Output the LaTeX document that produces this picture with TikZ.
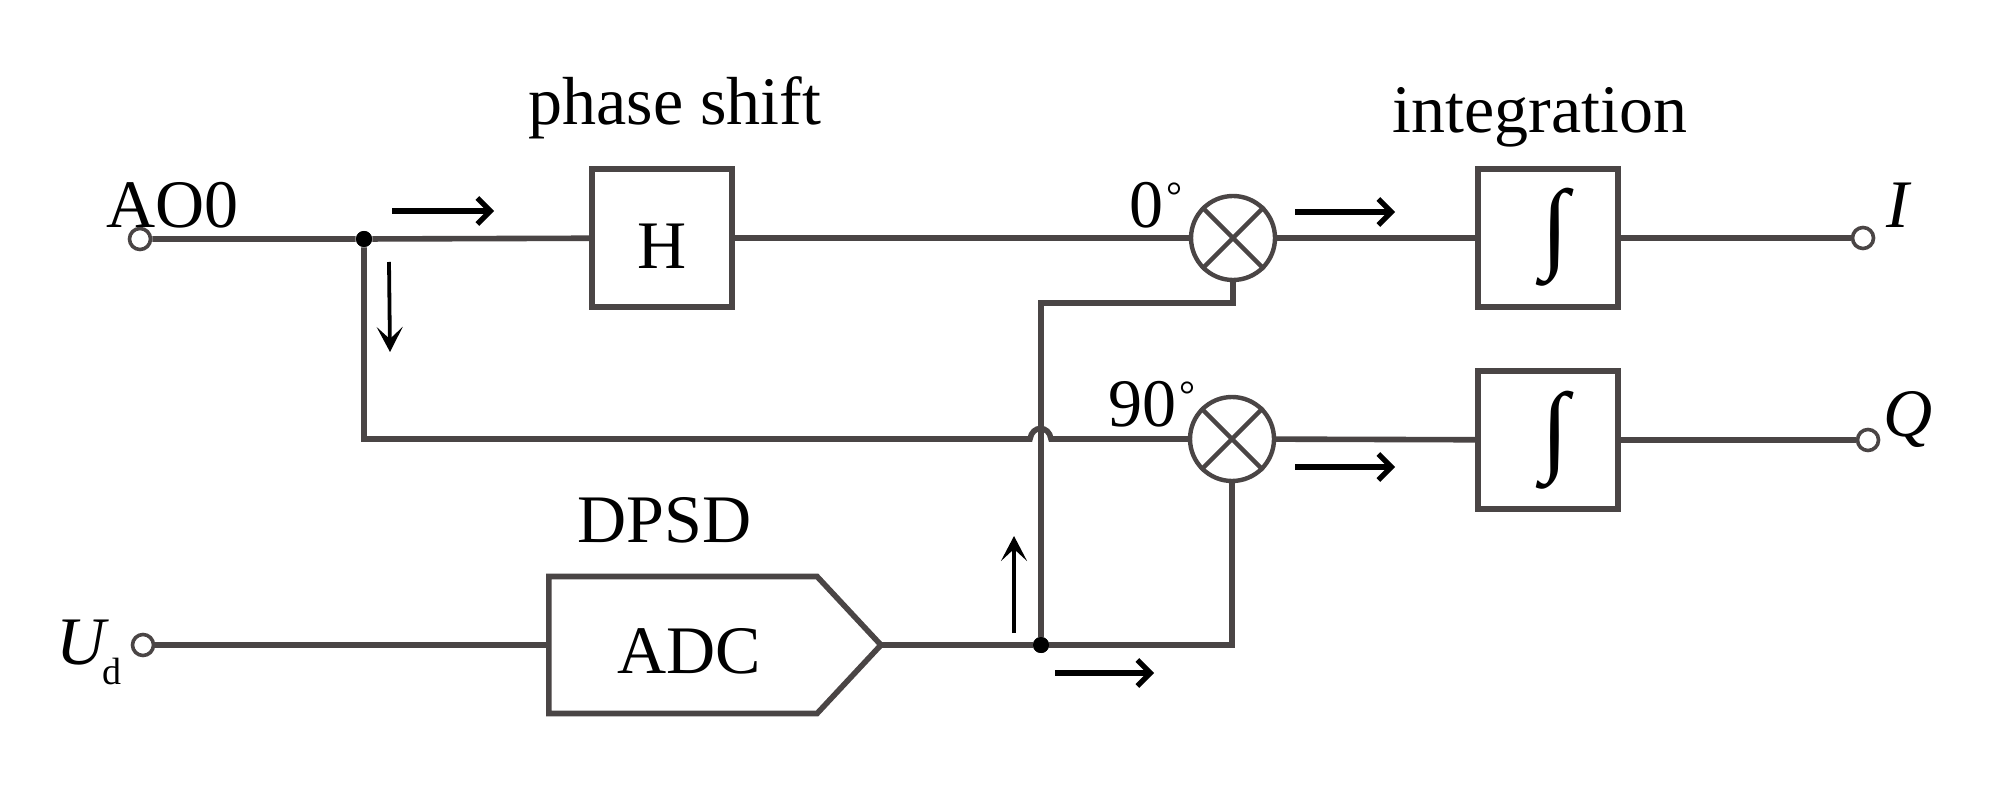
\documentclass[tikz,border=0pt]{standalone}
\usepackage{fontspec}
\setmainfont{Liberation Serif}
\usetikzlibrary{arrows.meta,shapes.symbols}
\definecolor{wirecol}{HTML}{4A4545}
\newcommand{\degmark}{\kern1.5pt\raisebox{9pt}{\fontsize{20pt}{22pt}\selectfont °}}
\tikzset{
  wire/.style={draw=wirecol,line width=2.8pt,line join=miter},
  blockbox/.style={wire,rectangle,inner sep=0pt,minimum width=70pt,minimum height=69pt},
  mixer/.style={wire,circle,inner sep=0pt,minimum size=42pt,line width=2.2pt},
  terminal/.style={draw=wirecol,fill=white,circle,inner sep=0pt,minimum size=10.5pt,line width=1.8pt},
  jointdot/.style={fill=black,circle,inner sep=0pt,minimum size=8pt},
  txt/.style={inner sep=0pt,anchor=base west,text=black,font=\fontsize{34pt}{40pt}\selectfont},
  intsign/.style={inner sep=0pt,text=black,font=\fontsize{50pt}{54pt}\selectfont},
  flow/.style={draw=black,line width=3pt,-{Straight Barb[length=6.5pt,width=13pt,line width=2.6pt]}},
  flowthin/.style={draw=black,line width=1.9pt,-{Stealth[length=12.5pt,width=13pt,inset=6pt]}}
}
\begin{document}
\begin{tikzpicture}[x=0.5pt,y=-0.5pt]
\useasboundingbox[fill=white] (0,0) rectangle (2000,785);
% blocks
\node[blockbox] (h) at (662,238) {};
\node[txt] (htxt) at (637,269) {H};
\node[blockbox] (int1) at (1548,238) {};
\node[blockbox] (int2) at (1548,440) {};
\node[intsign] (s1) at (1555,237) {∫};
\node[intsign] (s2) at (1555,440) {∫};
\node[mixer] (m1) at (1233,238) {};
\node[mixer] (m2) at (1232,439) {};
\draw[draw=wirecol,line width=2.2pt] (m1.north west) -- (m1.south east) (m1.north east) -- (m1.south west);
\draw[draw=wirecol,line width=2.2pt] (m2.north west) -- (m2.south east) (m2.north east) -- (m2.south west);
\node[wire,signal,signal to=east,signal from=nowhere,signal pointer angle=94,inner sep=0pt,outer sep=0pt,minimum width=166pt,minimum height=68.5pt] (adc) at (683,645) {};
% terminals and junctions
\node[terminal] (ao) at (140,239) {};
\node[terminal] (ud) at (143,645) {};
\node[terminal] (ti) at (1863,238) {};
\node[terminal] (tq) at (1868,440) {};
\node[jointdot] (j1) at (364,239) {};
\node[jointdot] (j2) at (1041,645) {};
\coordinate (c1) at (364,439);
\coordinate (hopl) at (1030,439);
\coordinate (hopr) at (1051,439);
\coordinate (c2) at (1041,303);
\coordinate (c3) at (1232,645);
% wires
\draw[wire] (ao) -- (j1) -- (h);
\draw[wire] (h) -- (m1);
\draw[wire] (m1) -- (int1);
\draw[wire] (int1) -- (ti);
\draw[wire] (j1) -- (c1) -- (hopl) .. controls (1032,425) and (1049,425) .. (hopr) -- (m2);
\draw[wire] (m2) -- (int2);
\draw[wire] (int2) -- (tq);
\draw[wire] (ud) -- (adc.west);
\draw[wire] (adc.east) -- (j2) -- (c3) -- (m2);
\draw[wire] (j2) -- (c2) -| (m1);
\node[jointdot] at (j1) {};
\node[jointdot] at (j2) {};
% flow arrows
\coordinate (a1s) at (392,211); \coordinate (a1e) at (494,211);
\coordinate (a2s) at (389,262); \coordinate (a2e) at (390,352);
\coordinate (a3s) at (1295,212); \coordinate (a3e) at (1395,212);
\coordinate (a4s) at (1295,467); \coordinate (a4e) at (1395,467);
\coordinate (a5s) at (1014,633); \coordinate (a5e) at (1014,536);
\coordinate (a6s) at (1055,673); \coordinate (a6e) at (1154,673);
\draw[flow] (a1s) -- (a1e);
\draw[flowthin] (a2s) -- (a2e);
\draw[flow] (a3s) -- (a3e);
\draw[flow] (a4s) -- (a4e);
\draw[flowthin] (a5s) -- (a5e);
\draw[flow] (a6s) -- (a6e);
% labels
\node[txt] (lps) at (528,125) {phase shift};
\node[txt] (lint) at (1392,133) {integration};
\node[txt] (lao) at (106,228) {AO0};
\node[txt] (l0) at (1129,228) {0\degmark};
\node[txt] (l90) at (1108,427) {90\degmark};
\node[txt] (li) at (1886,228) {\textit{I}};
\node[txt] (lq) at (1883,437) {\textit{Q}};
\node[txt] (ldpsd) at (577,542) {DPSD};
\node[txt] (ladc) at (617,673) {ADC};
\node[txt] (lu) at (56,664) {\textit{U}\kern-3.5pt\raisebox{-10pt}{\fontsize{19pt}{22pt}\selectfont d}};
\end{tikzpicture}
\end{document}
